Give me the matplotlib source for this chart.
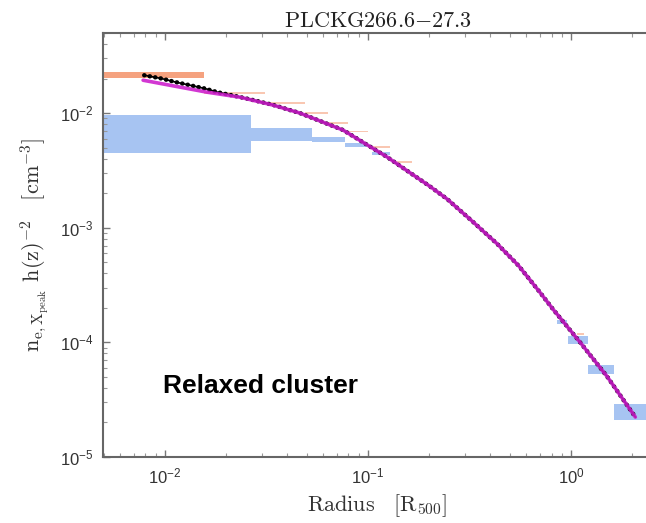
import matplotlib
matplotlib.use("Agg")
import matplotlib.pyplot as plt
import matplotlib.ticker as mticker
import numpy as np

plt.rcParams['font.family'] = ['Liberation Sans', 'DejaVu Sans']
plt.rcParams['mathtext.fontset'] = 'cm'

# ---- data ----
title = r"$\mathrm{PLCKG266.6{-}27.3}$"
xlabel = r"$\mathrm{Radius}\quad[\mathrm{R_{500}}]$"
ylabel = r"$\mathrm{n_{e,X_{peak}}\ h(z)^{-2}}\quad[\mathrm{cm^{-3}}]$"
annotation = "Relaxed cluster"

# blue boxes (radius range, density range)
blue_x0 = [0.005, 0.0264, 0.053, 0.077, 0.105, 0.85, 0.96, 1.21, 1.63]
blue_x1 = [0.0264, 0.053, 0.077, 0.100, 0.128, 0.955, 1.21, 1.63, 2.6]
blue_lo = [0.00447, 0.00574, 0.0056, 0.00506, 0.00431, 1.45e-4, 9.6e-5, 5.3e-5, 2.1e-5]
blue_hi = [0.0096, 0.00736, 0.00618, 0.00548, 0.00458, 1.56e-4, 1.13e-4, 6.4e-5, 2.89e-5]

# orange boxes
or_x0 = [0.005, 0.0156, 0.0311, 0.0488, 0.0636, 0.0797, 0.105, 0.139, 1.07]
or_x1 = [0.0156, 0.0311, 0.0488, 0.0636, 0.0797, 0.100, 0.128, 0.165, 1.15]
or_lo = [0.0204, 0.0146, 0.0119, 0.0098, 0.0081, 0.0068, 0.0050, 0.0037, 1.16e-4]
or_hi = [0.0229, 0.0152, 0.0124, 0.0102, 0.0084, 0.0070, 0.0052, 0.0038, 1.21e-4]

# black data points
dat_r = [0.0079, 0.00966, 0.0112, 0.0133, 0.0157, 0.0182, 0.0214, 0.0262, 0.034,
         0.0462, 0.0753, 0.124, 0.202, 0.245, 0.324, 0.432, 0.55, 0.703, 0.815,
         1.107, 1.50, 2.07]
dat_n = [0.0214, 0.0200, 0.0187, 0.0175, 0.0164, 0.0152, 0.0143, 0.0132, 0.0118,
         0.0100, 0.00712, 0.00414, 0.00229, 0.00178, 0.00115, 7.24e-4, 4.68e-4,
         2.72e-4, 1.94e-4, 1.0e-4, 5.06e-5, 2.23e-5]

# magenta model curve
mod_r = [0.0078, 0.0161, 0.0234, 0.034, 0.0462, 0.0753, 0.124, 0.202, 0.245,
         0.324, 0.432, 0.55, 0.703, 0.815, 1.107, 1.50, 2.07]
mod_n = [0.01936, 0.01523, 0.01377, 0.01175, 0.0100, 0.00711, 0.00414, 0.00229, 0.00178,
         0.00115, 7.24e-4, 4.68e-4, 2.72e-4, 1.94e-4, 1.0e-4, 5.06e-5, 2.23e-5]

xticks = [0.01, 0.1, 1.0]
yticks = [1e-5, 1e-4, 1e-3, 1e-2]

fig = plt.figure(figsize=(6.46, 5.23), dpi=100)
ax = fig.add_axes([103/646, (523-457)/523, (652-103)/646, (457-33)/523])
ax.set_xscale('log')
ax.set_yscale('log')
ax.set_xlim(0.00495, 2.5)
ax.set_ylim(1e-5, 0.05)

blue = '#a7c4f2'
orange = '#f5a27f'
for x0, x1, lo, hi in zip(blue_x0, blue_x1, blue_lo, blue_hi):
    ax.fill_between([x0, x1], [lo, lo], [hi, hi], color=blue, lw=0, zorder=1)
for i, (x0, x1, lo, hi) in enumerate(zip(or_x0, or_x1, or_lo, or_hi)):
    ax.fill_between([x0, x1], [lo, lo], [hi, hi], color=orange, lw=0,
                    alpha=1.0 if i == 0 else 0.6, zorder=2)

ax.plot(dat_r, dat_n, color='black', lw=1.2, zorder=3)
ax.plot(dat_r, dat_n, color='black', lw=3.2, ls=(0, (0.05, 1.2)),
        dash_capstyle='round', zorder=3)
ax.plot(mod_r, mod_n, color='#cc1ccc', lw=2.6, zorder=4, alpha=0.88,
        solid_capstyle='round')

ax.text(0.109, 0.151, annotation, transform=ax.transAxes, fontsize=19,
        fontweight='bold', color='black', ha='left', va='baseline')

ax.set_title(title, fontsize=16, pad=4, color='#222222', x=(378-103)/549)
ax.set_xlabel(xlabel, fontsize=16, color='#333333', labelpad=4)
ax.set_ylabel(ylabel, fontsize=16, color='#333333', labelpad=6)

fmt = mticker.FuncFormatter(lambda v, p: r"$\mathregular{10^{%d}}$" % int(round(np.log10(v))))
ax.xaxis.set_major_locator(mticker.FixedLocator(xticks))
ax.yaxis.set_major_locator(mticker.FixedLocator(yticks))
ax.xaxis.set_major_formatter(fmt)
ax.yaxis.set_major_formatter(fmt)
ax.xaxis.set_minor_locator(mticker.LogLocator(base=10, subs=np.arange(2, 10)))
ax.yaxis.set_minor_locator(mticker.LogLocator(base=10, subs=np.arange(2, 10)))
ax.xaxis.set_minor_formatter(mticker.NullFormatter())
ax.yaxis.set_minor_formatter(mticker.NullFormatter())
ax.tick_params(which='major', direction='in', length=5, width=1, color='#777777',
               labelsize=12, labelcolor='#333333', pad=7, top=True, right=False)
ax.tick_params(which='minor', direction='in', length=3, width=0.8, color='#999999',
               top=True, right=False)
for s in ['left', 'bottom', 'top']:
    ax.spines[s].set_color('#666666')
    ax.spines[s].set_linewidth(1.5)
ax.spines['right'].set_visible(False)

fig.savefig('out.png', dpi=100)
